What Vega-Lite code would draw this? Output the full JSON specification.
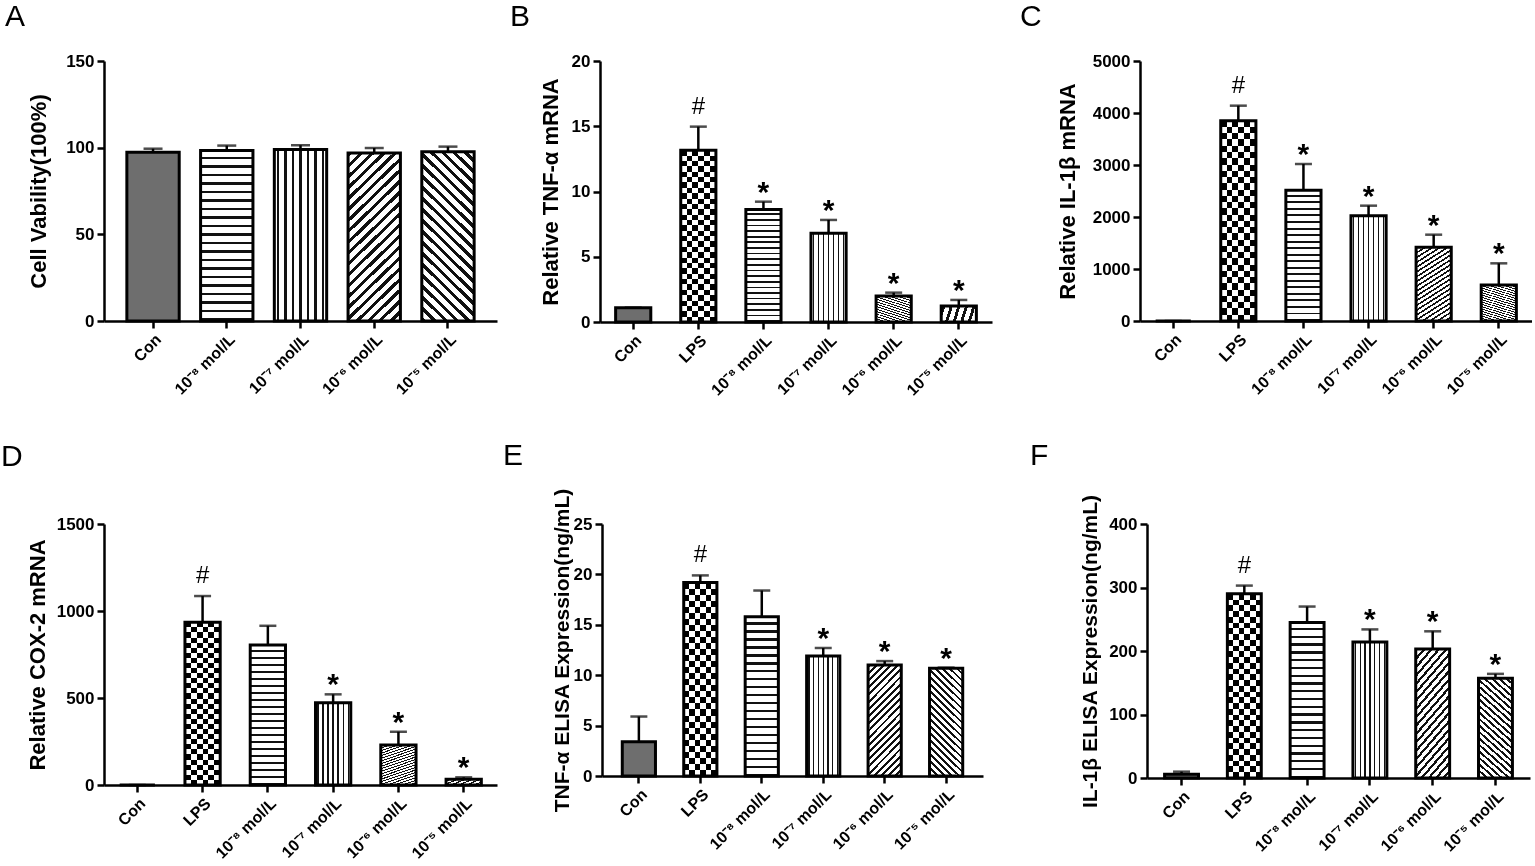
{
  "$schema": "https://vega.github.io/schema/vega-lite/v6.json",
  "description": "Six bar panels (A-F): cell viability, mRNA and ELISA expression by treatment group.",
  "padding": {"left": 1, "top": 2, "right": 0, "bottom": 0},
  "bounds": "flush",
  "spacing": 463,
  "data": {"name": "d"},
  "datasets": {
    "d": [
      {"p": "A", "g": "Con", "v": 97.3, "hi": 99.4},
      {"p": "A", "g": "10⁻⁸ mol/L", "v": 98.3, "hi": 101.2},
      {"p": "A", "g": "10⁻⁷ mol/L", "v": 98.9, "hi": 101.4},
      {"p": "A", "g": "10⁻⁶ mol/L", "v": 96.9, "hi": 99.8},
      {"p": "A", "g": "10⁻⁵ mol/L", "v": 97.7, "hi": 100.6},
      {"p": "B", "g": "Con", "v": 1.1, "hi": 1.1},
      {"p": "B", "g": "LPS", "v": 13.16, "hi": 14.97, "sig": "#"},
      {"p": "B", "g": "10⁻⁸ mol/L", "v": 8.63, "hi": 9.22, "sig": "*"},
      {"p": "B", "g": "10⁻⁷ mol/L", "v": 6.8, "hi": 7.82, "sig": "*"},
      {"p": "B", "g": "10⁻⁶ mol/L", "v": 1.99, "hi": 2.25, "sig": "*"},
      {"p": "B", "g": "10⁻⁵ mol/L", "v": 1.23, "hi": 1.69, "sig": "*"},
      {"p": "C", "g": "Con", "v": 0, "hi": 0},
      {"p": "C", "g": "LPS", "v": 3852, "hi": 4141, "sig": "#"},
      {"p": "C", "g": "10⁻⁸ mol/L", "v": 2513, "hi": 3019, "sig": "*"},
      {"p": "C", "g": "10⁻⁷ mol/L", "v": 2026, "hi": 2218, "sig": "*"},
      {"p": "C", "g": "10⁻⁶ mol/L", "v": 1417, "hi": 1660, "sig": "*"},
      {"p": "C", "g": "10⁻⁵ mol/L", "v": 692, "hi": 1109, "sig": "*"},
      {"p": "D", "g": "Con", "v": 0, "hi": 0},
      {"p": "D", "g": "LPS", "v": 935, "hi": 1086, "sig": "#"},
      {"p": "D", "g": "10⁻⁸ mol/L", "v": 805, "hi": 915},
      {"p": "D", "g": "10⁻⁷ mol/L", "v": 473, "hi": 521, "sig": "*"},
      {"p": "D", "g": "10⁻⁶ mol/L", "v": 230, "hi": 306, "sig": "*"},
      {"p": "D", "g": "10⁻⁵ mol/L", "v": 33, "hi": 44, "sig": "*"},
      {"p": "E", "g": "Con", "v": 3.4, "hi": 5.9},
      {"p": "E", "g": "LPS", "v": 19.2, "hi": 19.9, "sig": "#"},
      {"p": "E", "g": "10⁻⁸ mol/L", "v": 15.8, "hi": 18.4},
      {"p": "E", "g": "10⁻⁷ mol/L", "v": 11.9, "hi": 12.7, "sig": "*"},
      {"p": "E", "g": "10⁻⁶ mol/L", "v": 11.0, "hi": 11.4, "sig": "*"},
      {"p": "E", "g": "10⁻⁵ mol/L", "v": 10.7, "hi": 10.75, "sig": "*"},
      {"p": "F", "g": "Con", "v": 6, "hi": 10},
      {"p": "F", "g": "LPS", "v": 290, "hi": 303, "sig": "#"},
      {"p": "F", "g": "10⁻⁸ mol/L", "v": 245, "hi": 270},
      {"p": "F", "g": "10⁻⁷ mol/L", "v": 214, "hi": 234, "sig": "*"},
      {"p": "F", "g": "10⁻⁶ mol/L", "v": 203, "hi": 231, "sig": "*"},
      {"p": "F", "g": "10⁻⁵ mol/L", "v": 157, "hi": 164, "sig": "*"}
    ]
  },
  "vconcat": [
    {
      "bounds": "flush",
      "spacing": 103,
      "hconcat": [
        {
          "title": {"text": "A", "dx": -99},
          "width": 393, "height": 260,
          "transform": [{"filter": "datum.p=='A'"}],
          "encoding": {
            "x": {"field": "g", "type": "nominal", "sort": ["Con", "LPS", "10⁻⁸ mol/L", "10⁻⁷ mol/L", "10⁻⁶ mol/L", "10⁻⁵ mol/L"], "title": null, "scale": {"paddingInner": 0.29, "paddingOuter": 0.31}},
            "y": {"field": "v", "type": "quantitative", "scale": {"domain": [0, 150]}, "axis": {"title": "Cell Vability(100%)", "values": [0, 50, 100, 150], "titlePadding": 15}}
          },
          "layer": [
            {"mark": {"type": "rule", "strokeWidth": 2.5}, "encoding": {"y2": {"field": "hi"}}},
            {"mark": {"type": "tick", "thickness": 2.5, "size": 19}, "encoding": {"y": {"field": "hi", "type": "quantitative"}}},
            {"transform": [{"filter": "datum.g=='Con'"}], "mark": {"type": "bar", "style": "con"}},
            {"transform": [{"filter": "datum.g=='10⁻⁸ mol/L'"}], "mark": {"type": "bar", "style": "h"}},
            {"transform": [{"filter": "datum.g=='10⁻⁷ mol/L'"}], "mark": {"type": "bar", "style": "v"}},
            {"transform": [{"filter": "datum.g=='10⁻⁶ mol/L'"}], "mark": {"type": "bar", "style": "d1"}},
            {"transform": [{"filter": "datum.g=='10⁻⁵ mol/L'"}], "mark": {"type": "bar", "style": "d2"}},
            {"mark": {"type": "bar", "filled": false, "strokeWidth": 3}}
          ]
        },
        {
          "bounds": "flush",
          "spacing": 148,
          "hconcat": [
            {
              "title": {"text": "B", "dx": -90},
              "width": 392, "height": 261,
              "transform": [{"filter": "datum.p=='B'"}],
              "encoding": {
                "x": {"field": "g", "type": "nominal", "sort": ["Con", "LPS", "10⁻⁸ mol/L", "10⁻⁷ mol/L", "10⁻⁶ mol/L", "10⁻⁵ mol/L"], "title": null, "scale": {"paddingInner": 0.46, "paddingOuter": 0.24}},
                "y": {"field": "v", "type": "quantitative", "scale": {"domain": [0, 20]}, "axis": {"title": "Relative TNF-α  mRNA", "values": [0, 5, 10, 15, 20], "titlePadding": 9}}
              },
              "layer": [
                {"mark": {"type": "rule", "strokeWidth": 2.5}, "encoding": {"y2": {"field": "hi"}}},
                {"mark": {"type": "tick", "thickness": 2.5, "size": 17}, "encoding": {"y": {"field": "hi", "type": "quantitative"}}},
                {"transform": [{"filter": "datum.g=='Con'"}], "mark": {"type": "bar", "style": "con"}},
                {"transform": [{"filter": "datum.g=='LPS'"}], "mark": {"type": "bar", "style": "lpsH"}},
                {"transform": [{"filter": "datum.g=='LPS'"}], "mark": {"type": "bar", "style": "lpsV", "blend": "difference"}},
                {"transform": [{"filter": "datum.g=='10⁻⁸ mol/L'"}], "mark": {"type": "bar", "style": "h"}},
                {"transform": [{"filter": "datum.g=='10⁻⁷ mol/L'"}], "mark": {"type": "bar", "style": "v"}},
                {"transform": [{"filter": "datum.g=='10⁻⁶ mol/L'"}], "mark": {"type": "bar", "style": "d1"}},
                {"transform": [{"filter": "datum.g=='10⁻⁵ mol/L'"}], "mark": {"type": "bar", "style": "d2"}},
                {"mark": {"type": "bar", "filled": false, "strokeWidth": 3}},
                {"transform": [{"filter": "datum.sig=='#'"}], "mark": {"type": "text", "style": "hash"}, "encoding": {"y": {"field": "hi", "type": "quantitative"}, "text": {"field": "sig"}}},
                {"transform": [{"filter": "datum.sig=='*'"}], "mark": {"type": "text", "style": "star"}, "encoding": {"y": {"field": "hi", "type": "quantitative"}, "text": {"field": "sig"}}}
              ]
            },
            {
              "title": {"text": "C", "dx": -120},
              "width": 392, "height": 260,
              "transform": [{"filter": "datum.p=='C'"}],
              "encoding": {
                "x": {"field": "g", "type": "nominal", "sort": ["Con", "LPS", "10⁻⁸ mol/L", "10⁻⁷ mol/L", "10⁻⁶ mol/L", "10⁻⁵ mol/L"], "title": null, "scale": {"paddingInner": 0.46, "paddingOuter": 0.24}},
                "y": {"field": "v", "type": "quantitative", "scale": {"domain": [0, 5000]}, "axis": {"title": "Relative IL-1β  mRNA", "values": [0, 1000, 2000, 3000, 4000, 5000], "titlePadding": 13}}
              },
              "layer": [
                {"mark": {"type": "rule", "strokeWidth": 2.5}, "encoding": {"y2": {"field": "hi"}}},
                {"mark": {"type": "tick", "thickness": 2.5, "size": 17}, "encoding": {"y": {"field": "hi", "type": "quantitative"}}},
                {"transform": [{"filter": "datum.g=='Con'"}], "mark": {"type": "bar", "style": "con"}},
                {"transform": [{"filter": "datum.g=='LPS'"}], "mark": {"type": "bar", "style": "lpsH"}},
                {"transform": [{"filter": "datum.g=='LPS'"}], "mark": {"type": "bar", "style": "lpsV", "blend": "difference"}},
                {"transform": [{"filter": "datum.g=='10⁻⁸ mol/L'"}], "mark": {"type": "bar", "style": "h"}},
                {"transform": [{"filter": "datum.g=='10⁻⁷ mol/L'"}], "mark": {"type": "bar", "style": "v"}},
                {"transform": [{"filter": "datum.g=='10⁻⁶ mol/L'"}], "mark": {"type": "bar", "style": "d1"}},
                {"transform": [{"filter": "datum.g=='10⁻⁵ mol/L'"}], "mark": {"type": "bar", "style": "d2"}},
                {"mark": {"type": "bar", "filled": false, "strokeWidth": 3}},
                {"transform": [{"filter": "datum.sig=='#'"}], "mark": {"type": "text", "style": "hash"}, "encoding": {"y": {"field": "hi", "type": "quantitative"}, "text": {"field": "sig"}}},
                {"transform": [{"filter": "datum.sig=='*'"}], "mark": {"type": "text", "style": "star"}, "encoding": {"y": {"field": "hi", "type": "quantitative"}, "text": {"field": "sig"}}}
              ]
            }
          ]
        }
      ]
    },
    {
      "bounds": "flush",
      "spacing": 105,
      "hconcat": [
        {
          "title": {"text": "D", "dx": -103, "dy": -23},
          "width": 393, "height": 261,
          "transform": [{"filter": "datum.p=='D'"}],
          "encoding": {
            "x": {"field": "g", "type": "nominal", "sort": ["Con", "LPS", "10⁻⁸ mol/L", "10⁻⁷ mol/L", "10⁻⁶ mol/L", "10⁻⁵ mol/L"], "title": null, "scale": {"paddingInner": 0.46, "paddingOuter": 0.24}},
            "y": {"field": "v", "type": "quantitative", "scale": {"domain": [0, 1500]}, "axis": {"title": "Relative COX-2  mRNA", "values": [0, 500, 1000, 1500], "titlePadding": 7}}
          },
          "layer": [
            {"mark": {"type": "rule", "strokeWidth": 2.5}, "encoding": {"y2": {"field": "hi"}}},
            {"mark": {"type": "tick", "thickness": 2.5, "size": 17}, "encoding": {"y": {"field": "hi", "type": "quantitative"}}},
            {"transform": [{"filter": "datum.g=='Con'"}], "mark": {"type": "bar", "style": "con"}},
            {"transform": [{"filter": "datum.g=='LPS'"}], "mark": {"type": "bar", "style": "lpsH"}},
            {"transform": [{"filter": "datum.g=='LPS'"}], "mark": {"type": "bar", "style": "lpsV", "blend": "difference"}},
            {"transform": [{"filter": "datum.g=='10⁻⁸ mol/L'"}], "mark": {"type": "bar", "style": "h"}},
            {"transform": [{"filter": "datum.g=='10⁻⁷ mol/L'"}], "mark": {"type": "bar", "style": "v"}},
            {"transform": [{"filter": "datum.g=='10⁻⁶ mol/L'"}], "mark": {"type": "bar", "style": "d1"}},
            {"transform": [{"filter": "datum.g=='10⁻⁵ mol/L'"}], "mark": {"type": "bar", "style": "d2"}},
            {"mark": {"type": "bar", "filled": false, "strokeWidth": 3}},
            {"transform": [{"filter": "datum.sig=='#'"}], "mark": {"type": "text", "style": "hash"}, "encoding": {"y": {"field": "hi", "type": "quantitative"}, "text": {"field": "sig"}}},
            {"transform": [{"filter": "datum.sig=='*'"}], "mark": {"type": "text", "style": "star"}, "encoding": {"y": {"field": "hi", "type": "quantitative"}, "text": {"field": "sig"}}}
          ]
        },
        {
          "bounds": "flush",
          "spacing": 164,
          "hconcat": [
            {
              "title": {"text": "E", "dx": -99, "dy": 6},
              "width": 381, "height": 252,
              "transform": [{"filter": "datum.p=='E'"}],
              "encoding": {
                "x": {"field": "g", "type": "nominal", "sort": ["Con", "LPS", "10⁻⁸ mol/L", "10⁻⁷ mol/L", "10⁻⁶ mol/L", "10⁻⁵ mol/L"], "title": null, "scale": {"paddingInner": 0.46, "paddingOuter": 0.33}},
                "y": {"field": "v", "type": "quantitative", "scale": {"domain": [0, 25]}, "axis": {"title": "TNF-α  ELISA Expression(ng/mL)", "values": [0, 5, 10, 15, 20, 25], "titlePadding": 1, "titleFontSize": 21}}
              },
              "layer": [
                {"mark": {"type": "rule", "strokeWidth": 2.5}, "encoding": {"y2": {"field": "hi"}}},
                {"mark": {"type": "tick", "thickness": 2.5, "size": 17}, "encoding": {"y": {"field": "hi", "type": "quantitative"}}},
                {"transform": [{"filter": "datum.g=='Con'"}], "mark": {"type": "bar", "style": "con"}},
                {"transform": [{"filter": "datum.g=='LPS'"}], "mark": {"type": "bar", "style": "lpsH"}},
                {"transform": [{"filter": "datum.g=='LPS'"}], "mark": {"type": "bar", "style": "lpsV", "blend": "difference"}},
                {"transform": [{"filter": "datum.g=='10⁻⁸ mol/L'"}], "mark": {"type": "bar", "style": "h"}},
                {"transform": [{"filter": "datum.g=='10⁻⁷ mol/L'"}], "mark": {"type": "bar", "style": "v"}},
                {"transform": [{"filter": "datum.g=='10⁻⁶ mol/L'"}], "mark": {"type": "bar", "style": "d1"}},
                {"transform": [{"filter": "datum.g=='10⁻⁵ mol/L'"}], "mark": {"type": "bar", "style": "d2"}},
                {"mark": {"type": "bar", "filled": false, "strokeWidth": 3}},
                {"transform": [{"filter": "datum.sig=='#'"}], "mark": {"type": "text", "style": "hash"}, "encoding": {"y": {"field": "hi", "type": "quantitative"}, "text": {"field": "sig"}}},
                {"transform": [{"filter": "datum.sig=='*'"}], "mark": {"type": "text", "style": "star"}, "encoding": {"y": {"field": "hi", "type": "quantitative"}, "text": {"field": "sig"}}}
              ]
            },
            {
              "title": {"text": "F", "dx": -117, "dy": 0},
              "width": 383, "height": 254,
              "transform": [{"filter": "datum.p=='F'"}],
              "encoding": {
                "x": {"field": "g", "type": "nominal", "sort": ["Con", "LPS", "10⁻⁸ mol/L", "10⁻⁷ mol/L", "10⁻⁶ mol/L", "10⁻⁵ mol/L"], "title": null, "scale": {"paddingInner": 0.46, "paddingOuter": 0.28}},
                "y": {"field": "v", "type": "quantitative", "scale": {"domain": [0, 400]}, "axis": {"title": "IL-1β  ELISA Expression(ng/mL)", "values": [0, 100, 200, 300, 400], "titlePadding": 8, "titleFontSize": 21}}
              },
              "layer": [
                {"mark": {"type": "rule", "strokeWidth": 2.5}, "encoding": {"y2": {"field": "hi"}}},
                {"mark": {"type": "tick", "thickness": 2.5, "size": 17}, "encoding": {"y": {"field": "hi", "type": "quantitative"}}},
                {"transform": [{"filter": "datum.g=='Con'"}], "mark": {"type": "bar", "style": "con"}},
                {"transform": [{"filter": "datum.g=='LPS'"}], "mark": {"type": "bar", "style": "lpsH"}},
                {"transform": [{"filter": "datum.g=='LPS'"}], "mark": {"type": "bar", "style": "lpsV", "blend": "difference"}},
                {"transform": [{"filter": "datum.g=='10⁻⁸ mol/L'"}], "mark": {"type": "bar", "style": "h"}},
                {"transform": [{"filter": "datum.g=='10⁻⁷ mol/L'"}], "mark": {"type": "bar", "style": "v"}},
                {"transform": [{"filter": "datum.g=='10⁻⁶ mol/L'"}], "mark": {"type": "bar", "style": "d1"}},
                {"transform": [{"filter": "datum.g=='10⁻⁵ mol/L'"}], "mark": {"type": "bar", "style": "d2"}},
                {"mark": {"type": "bar", "filled": false, "strokeWidth": 3}},
                {"transform": [{"filter": "datum.sig=='#'"}], "mark": {"type": "text", "style": "hash"}, "encoding": {"y": {"field": "hi", "type": "quantitative"}, "text": {"field": "sig"}}},
                {"transform": [{"filter": "datum.sig=='*'"}], "mark": {"type": "text", "style": "star"}, "encoding": {"y": {"field": "hi", "type": "quantitative"}, "text": {"field": "sig"}}}
              ]
            }
          ]
        }
      ]
    }
  ],
  "config": {
    "font": "Liberation Sans",
    "view": {"stroke": null},
    "mark": {"color": "#000"},
    "axis": {
      "grid": false, "domainColor": "#000", "domainWidth": 2.5, "tickColor": "#000", "tickWidth": 2.5, "tickSize": 7,
      "labelPadding": 3, "labelFont": "Liberation Sans", "labelFontSize": 17, "labelFontWeight": "bold", "labelColor": "#000", "labelFlush": false,
      "titleFont": "Liberation Sans", "titleFontSize": 22, "titleFontWeight": "bold", "titleColor": "#000"
    },
    "axisX": {"labelAngle": -45, "labelFontSize": 16, "labelOverlap": false},
    "axisY": {"format": "d"},
    "title": {"font": "Liberation Sans", "fontSize": 30, "fontWeight": "normal", "anchor": "start", "frame": "group", "color": "#000", "offset": 20, "baseline": "bottom"},
    "style": {
      "hash": {"fontSize": 24, "dy": -13, "baseline": "alphabetic", "align": "center"},
      "star": {"fontSize": 30, "fontWeight": "bold", "dy": 0, "baseline": "alphabetic", "align": "center"},
      "con": {"color": "#6e6e6e", "strokeWidth": 0},
      "h": {"strokeWidth": 0, "color": {"gradient": "linear", "x1": 0, "y1": 0, "x2": 0, "y2": 1, "stops": [
        {"offset": 0, "color": "#fff"},
        {"offset": 0.035, "color": "#fff"}, {"offset": 0.035, "color": "#111"}, {"offset": 0.05, "color": "#111"}, {"offset": 0.05, "color": "#fff"},
        {"offset": 0.085, "color": "#fff"}, {"offset": 0.085, "color": "#111"}, {"offset": 0.1, "color": "#111"}, {"offset": 0.1, "color": "#fff"},
        {"offset": 0.135, "color": "#fff"}, {"offset": 0.135, "color": "#111"}, {"offset": 0.15, "color": "#111"}, {"offset": 0.15, "color": "#fff"},
        {"offset": 0.185, "color": "#fff"}, {"offset": 0.185, "color": "#111"}, {"offset": 0.2, "color": "#111"}, {"offset": 0.2, "color": "#fff"},
        {"offset": 0.235, "color": "#fff"}, {"offset": 0.235, "color": "#111"}, {"offset": 0.25, "color": "#111"}, {"offset": 0.25, "color": "#fff"},
        {"offset": 0.285, "color": "#fff"}, {"offset": 0.285, "color": "#111"}, {"offset": 0.3, "color": "#111"}, {"offset": 0.3, "color": "#fff"},
        {"offset": 0.335, "color": "#fff"}, {"offset": 0.335, "color": "#111"}, {"offset": 0.35, "color": "#111"}, {"offset": 0.35, "color": "#fff"},
        {"offset": 0.385, "color": "#fff"}, {"offset": 0.385, "color": "#111"}, {"offset": 0.4, "color": "#111"}, {"offset": 0.4, "color": "#fff"},
        {"offset": 0.435, "color": "#fff"}, {"offset": 0.435, "color": "#111"}, {"offset": 0.45, "color": "#111"}, {"offset": 0.45, "color": "#fff"},
        {"offset": 0.485, "color": "#fff"}, {"offset": 0.485, "color": "#111"}, {"offset": 0.5, "color": "#111"}, {"offset": 0.5, "color": "#fff"},
        {"offset": 0.535, "color": "#fff"}, {"offset": 0.535, "color": "#111"}, {"offset": 0.55, "color": "#111"}, {"offset": 0.55, "color": "#fff"},
        {"offset": 0.585, "color": "#fff"}, {"offset": 0.585, "color": "#111"}, {"offset": 0.6, "color": "#111"}, {"offset": 0.6, "color": "#fff"},
        {"offset": 0.635, "color": "#fff"}, {"offset": 0.635, "color": "#111"}, {"offset": 0.65, "color": "#111"}, {"offset": 0.65, "color": "#fff"},
        {"offset": 0.685, "color": "#fff"}, {"offset": 0.685, "color": "#111"}, {"offset": 0.7, "color": "#111"}, {"offset": 0.7, "color": "#fff"},
        {"offset": 0.735, "color": "#fff"}, {"offset": 0.735, "color": "#111"}, {"offset": 0.75, "color": "#111"}, {"offset": 0.75, "color": "#fff"},
        {"offset": 0.785, "color": "#fff"}, {"offset": 0.785, "color": "#111"}, {"offset": 0.8, "color": "#111"}, {"offset": 0.8, "color": "#fff"},
        {"offset": 0.835, "color": "#fff"}, {"offset": 0.835, "color": "#111"}, {"offset": 0.85, "color": "#111"}, {"offset": 0.85, "color": "#fff"},
        {"offset": 0.885, "color": "#fff"}, {"offset": 0.885, "color": "#111"}, {"offset": 0.9, "color": "#111"}, {"offset": 0.9, "color": "#fff"},
        {"offset": 0.935, "color": "#fff"}, {"offset": 0.935, "color": "#111"}, {"offset": 0.95, "color": "#111"}, {"offset": 0.95, "color": "#fff"},
        {"offset": 0.985, "color": "#fff"}, {"offset": 0.985, "color": "#111"}, {"offset": 1, "color": "#111"}
      ]}},
      "v": {"strokeWidth": 0, "color": {"gradient": "linear", "x1": 0, "y1": 0, "x2": 1, "y2": 0, "stops": [
        {"offset": 0, "color": "#fff"},
        {"offset": 0.051, "color": "#fff"}, {"offset": 0.051, "color": "#111"}, {"offset": 0.091, "color": "#111"}, {"offset": 0.091, "color": "#fff"},
        {"offset": 0.194, "color": "#fff"}, {"offset": 0.194, "color": "#111"}, {"offset": 0.234, "color": "#111"}, {"offset": 0.234, "color": "#fff"},
        {"offset": 0.337, "color": "#fff"}, {"offset": 0.337, "color": "#111"}, {"offset": 0.377, "color": "#111"}, {"offset": 0.377, "color": "#fff"},
        {"offset": 0.48, "color": "#fff"}, {"offset": 0.48, "color": "#111"}, {"offset": 0.52, "color": "#111"}, {"offset": 0.52, "color": "#fff"},
        {"offset": 0.623, "color": "#fff"}, {"offset": 0.623, "color": "#111"}, {"offset": 0.663, "color": "#111"}, {"offset": 0.663, "color": "#fff"},
        {"offset": 0.766, "color": "#fff"}, {"offset": 0.766, "color": "#111"}, {"offset": 0.806, "color": "#111"}, {"offset": 0.806, "color": "#fff"},
        {"offset": 0.909, "color": "#fff"}, {"offset": 0.909, "color": "#111"}, {"offset": 0.949, "color": "#111"}, {"offset": 0.949, "color": "#fff"},
        {"offset": 1, "color": "#fff"}
      ]}},
      "d1": {"strokeWidth": 0, "color": {"gradient": "linear", "x1": 0, "y1": 0, "x2": 0.36, "y2": 1.19, "stops": [
        {"offset": 0, "color": "#111"}, {"offset": 0.02, "color": "#111"}, {"offset": 0.02, "color": "#fff"}, {"offset": 0.05, "color": "#fff"},
        {"offset": 0.05, "color": "#111"}, {"offset": 0.07, "color": "#111"}, {"offset": 0.07, "color": "#fff"}, {"offset": 0.1, "color": "#fff"},
        {"offset": 0.1, "color": "#111"}, {"offset": 0.12, "color": "#111"}, {"offset": 0.12, "color": "#fff"}, {"offset": 0.15, "color": "#fff"},
        {"offset": 0.15, "color": "#111"}, {"offset": 0.17, "color": "#111"}, {"offset": 0.17, "color": "#fff"}, {"offset": 0.2, "color": "#fff"},
        {"offset": 0.2, "color": "#111"}, {"offset": 0.22, "color": "#111"}, {"offset": 0.22, "color": "#fff"}, {"offset": 0.25, "color": "#fff"},
        {"offset": 0.25, "color": "#111"}, {"offset": 0.27, "color": "#111"}, {"offset": 0.27, "color": "#fff"}, {"offset": 0.3, "color": "#fff"},
        {"offset": 0.3, "color": "#111"}, {"offset": 0.32, "color": "#111"}, {"offset": 0.32, "color": "#fff"}, {"offset": 0.35, "color": "#fff"},
        {"offset": 0.35, "color": "#111"}, {"offset": 0.37, "color": "#111"}, {"offset": 0.37, "color": "#fff"}, {"offset": 0.4, "color": "#fff"},
        {"offset": 0.4, "color": "#111"}, {"offset": 0.42, "color": "#111"}, {"offset": 0.42, "color": "#fff"}, {"offset": 0.45, "color": "#fff"},
        {"offset": 0.45, "color": "#111"}, {"offset": 0.47, "color": "#111"}, {"offset": 0.47, "color": "#fff"}, {"offset": 0.5, "color": "#fff"},
        {"offset": 0.5, "color": "#111"}, {"offset": 0.52, "color": "#111"}, {"offset": 0.52, "color": "#fff"}, {"offset": 0.55, "color": "#fff"},
        {"offset": 0.55, "color": "#111"}, {"offset": 0.57, "color": "#111"}, {"offset": 0.57, "color": "#fff"}, {"offset": 0.6, "color": "#fff"},
        {"offset": 0.6, "color": "#111"}, {"offset": 0.62, "color": "#111"}, {"offset": 0.62, "color": "#fff"}, {"offset": 0.65, "color": "#fff"},
        {"offset": 0.65, "color": "#111"}, {"offset": 0.67, "color": "#111"}, {"offset": 0.67, "color": "#fff"}, {"offset": 0.7, "color": "#fff"},
        {"offset": 0.7, "color": "#111"}, {"offset": 0.72, "color": "#111"}, {"offset": 0.72, "color": "#fff"}, {"offset": 0.75, "color": "#fff"},
        {"offset": 0.75, "color": "#111"}, {"offset": 0.77, "color": "#111"}, {"offset": 0.77, "color": "#fff"}, {"offset": 0.8, "color": "#fff"},
        {"offset": 0.8, "color": "#111"}, {"offset": 0.82, "color": "#111"}, {"offset": 0.82, "color": "#fff"}, {"offset": 0.85, "color": "#fff"},
        {"offset": 0.85, "color": "#111"}, {"offset": 0.87, "color": "#111"}, {"offset": 0.87, "color": "#fff"}, {"offset": 0.9, "color": "#fff"},
        {"offset": 0.9, "color": "#111"}, {"offset": 0.92, "color": "#111"}, {"offset": 0.92, "color": "#fff"}, {"offset": 0.95, "color": "#fff"},
        {"offset": 0.95, "color": "#111"}, {"offset": 0.97, "color": "#111"}, {"offset": 0.97, "color": "#fff"}, {"offset": 1, "color": "#fff"}
      ]}},
      "d2": {"strokeWidth": 0, "color": {"gradient": "linear", "x1": 0, "y1": 1, "x2": 0.36, "y2": -0.19, "stops": [
        {"offset": 0, "color": "#111"}, {"offset": 0.02, "color": "#111"}, {"offset": 0.02, "color": "#fff"}, {"offset": 0.05, "color": "#fff"},
        {"offset": 0.05, "color": "#111"}, {"offset": 0.07, "color": "#111"}, {"offset": 0.07, "color": "#fff"}, {"offset": 0.1, "color": "#fff"},
        {"offset": 0.1, "color": "#111"}, {"offset": 0.12, "color": "#111"}, {"offset": 0.12, "color": "#fff"}, {"offset": 0.15, "color": "#fff"},
        {"offset": 0.15, "color": "#111"}, {"offset": 0.17, "color": "#111"}, {"offset": 0.17, "color": "#fff"}, {"offset": 0.2, "color": "#fff"},
        {"offset": 0.2, "color": "#111"}, {"offset": 0.22, "color": "#111"}, {"offset": 0.22, "color": "#fff"}, {"offset": 0.25, "color": "#fff"},
        {"offset": 0.25, "color": "#111"}, {"offset": 0.27, "color": "#111"}, {"offset": 0.27, "color": "#fff"}, {"offset": 0.3, "color": "#fff"},
        {"offset": 0.3, "color": "#111"}, {"offset": 0.32, "color": "#111"}, {"offset": 0.32, "color": "#fff"}, {"offset": 0.35, "color": "#fff"},
        {"offset": 0.35, "color": "#111"}, {"offset": 0.37, "color": "#111"}, {"offset": 0.37, "color": "#fff"}, {"offset": 0.4, "color": "#fff"},
        {"offset": 0.4, "color": "#111"}, {"offset": 0.42, "color": "#111"}, {"offset": 0.42, "color": "#fff"}, {"offset": 0.45, "color": "#fff"},
        {"offset": 0.45, "color": "#111"}, {"offset": 0.47, "color": "#111"}, {"offset": 0.47, "color": "#fff"}, {"offset": 0.5, "color": "#fff"},
        {"offset": 0.5, "color": "#111"}, {"offset": 0.52, "color": "#111"}, {"offset": 0.52, "color": "#fff"}, {"offset": 0.55, "color": "#fff"},
        {"offset": 0.55, "color": "#111"}, {"offset": 0.57, "color": "#111"}, {"offset": 0.57, "color": "#fff"}, {"offset": 0.6, "color": "#fff"},
        {"offset": 0.6, "color": "#111"}, {"offset": 0.62, "color": "#111"}, {"offset": 0.62, "color": "#fff"}, {"offset": 0.65, "color": "#fff"},
        {"offset": 0.65, "color": "#111"}, {"offset": 0.67, "color": "#111"}, {"offset": 0.67, "color": "#fff"}, {"offset": 0.7, "color": "#fff"},
        {"offset": 0.7, "color": "#111"}, {"offset": 0.72, "color": "#111"}, {"offset": 0.72, "color": "#fff"}, {"offset": 0.75, "color": "#fff"},
        {"offset": 0.75, "color": "#111"}, {"offset": 0.77, "color": "#111"}, {"offset": 0.77, "color": "#fff"}, {"offset": 0.8, "color": "#fff"},
        {"offset": 0.8, "color": "#111"}, {"offset": 0.82, "color": "#111"}, {"offset": 0.82, "color": "#fff"}, {"offset": 0.85, "color": "#fff"},
        {"offset": 0.85, "color": "#111"}, {"offset": 0.87, "color": "#111"}, {"offset": 0.87, "color": "#fff"}, {"offset": 0.9, "color": "#fff"},
        {"offset": 0.9, "color": "#111"}, {"offset": 0.92, "color": "#111"}, {"offset": 0.92, "color": "#fff"}, {"offset": 0.95, "color": "#fff"},
        {"offset": 0.95, "color": "#111"}, {"offset": 0.97, "color": "#111"}, {"offset": 0.97, "color": "#fff"}, {"offset": 1, "color": "#fff"}
      ]}},
      "lpsH": {"strokeWidth": 0, "color": {"gradient": "linear", "x1": 0, "y1": 0, "x2": 0, "y2": 1, "stops": [
        {"offset": 0, "color": "#000"}, {"offset": 0.03125, "color": "#000"}, {"offset": 0.03125, "color": "#fff"}, {"offset": 0.0625, "color": "#fff"},
        {"offset": 0.0625, "color": "#000"}, {"offset": 0.09375, "color": "#000"}, {"offset": 0.09375, "color": "#fff"}, {"offset": 0.125, "color": "#fff"},
        {"offset": 0.125, "color": "#000"}, {"offset": 0.15625, "color": "#000"}, {"offset": 0.15625, "color": "#fff"}, {"offset": 0.1875, "color": "#fff"},
        {"offset": 0.1875, "color": "#000"}, {"offset": 0.21875, "color": "#000"}, {"offset": 0.21875, "color": "#fff"}, {"offset": 0.25, "color": "#fff"},
        {"offset": 0.25, "color": "#000"}, {"offset": 0.28125, "color": "#000"}, {"offset": 0.28125, "color": "#fff"}, {"offset": 0.3125, "color": "#fff"},
        {"offset": 0.3125, "color": "#000"}, {"offset": 0.34375, "color": "#000"}, {"offset": 0.34375, "color": "#fff"}, {"offset": 0.375, "color": "#fff"},
        {"offset": 0.375, "color": "#000"}, {"offset": 0.40625, "color": "#000"}, {"offset": 0.40625, "color": "#fff"}, {"offset": 0.4375, "color": "#fff"},
        {"offset": 0.4375, "color": "#000"}, {"offset": 0.46875, "color": "#000"}, {"offset": 0.46875, "color": "#fff"}, {"offset": 0.5, "color": "#fff"},
        {"offset": 0.5, "color": "#000"}, {"offset": 0.53125, "color": "#000"}, {"offset": 0.53125, "color": "#fff"}, {"offset": 0.5625, "color": "#fff"},
        {"offset": 0.5625, "color": "#000"}, {"offset": 0.59375, "color": "#000"}, {"offset": 0.59375, "color": "#fff"}, {"offset": 0.625, "color": "#fff"},
        {"offset": 0.625, "color": "#000"}, {"offset": 0.65625, "color": "#000"}, {"offset": 0.65625, "color": "#fff"}, {"offset": 0.6875, "color": "#fff"},
        {"offset": 0.6875, "color": "#000"}, {"offset": 0.71875, "color": "#000"}, {"offset": 0.71875, "color": "#fff"}, {"offset": 0.75, "color": "#fff"},
        {"offset": 0.75, "color": "#000"}, {"offset": 0.78125, "color": "#000"}, {"offset": 0.78125, "color": "#fff"}, {"offset": 0.8125, "color": "#fff"},
        {"offset": 0.8125, "color": "#000"}, {"offset": 0.84375, "color": "#000"}, {"offset": 0.84375, "color": "#fff"}, {"offset": 0.875, "color": "#fff"},
        {"offset": 0.875, "color": "#000"}, {"offset": 0.90625, "color": "#000"}, {"offset": 0.90625, "color": "#fff"}, {"offset": 0.9375, "color": "#fff"},
        {"offset": 0.9375, "color": "#000"}, {"offset": 0.96875, "color": "#000"}, {"offset": 0.96875, "color": "#fff"}, {"offset": 1, "color": "#fff"}
      ]}},
      "lpsV": {"strokeWidth": 0, "color": {"gradient": "linear", "x1": 0, "y1": 0, "x2": 1, "y2": 0, "stops": [
        {"offset": 0, "color": "#000"}, {"offset": 0.1667, "color": "#000"}, {"offset": 0.1667, "color": "#fff"}, {"offset": 0.3333, "color": "#fff"},
        {"offset": 0.3333, "color": "#000"}, {"offset": 0.5, "color": "#000"}, {"offset": 0.5, "color": "#fff"}, {"offset": 0.6667, "color": "#fff"},
        {"offset": 0.6667, "color": "#000"}, {"offset": 0.8333, "color": "#000"}, {"offset": 0.8333, "color": "#fff"}, {"offset": 1, "color": "#fff"}
      ]}}
    }
  }
}
